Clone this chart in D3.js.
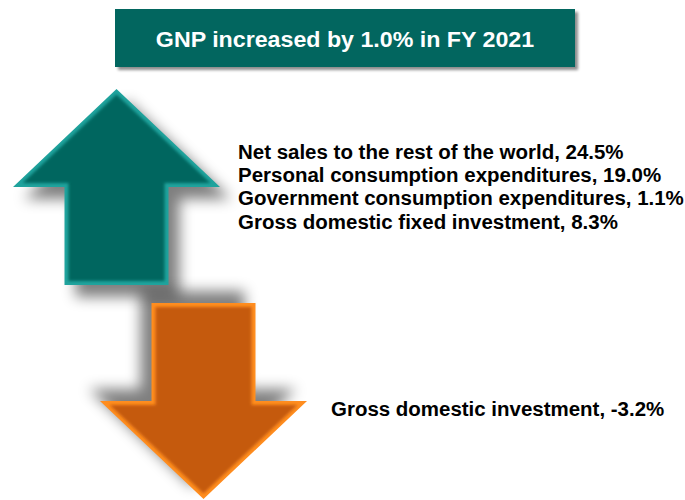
<!DOCTYPE html>
<html>
<head>
<meta charset="utf-8">
<script src="https://cdn.jsdelivr.net/npm/d3@7"></script>
<style>
  body { margin: 0; background: #fff; }
  svg { display: block; font-family: "Liberation Sans", Arial, sans-serif; }
</style>
</head>
<body>
<div id="chart"></div>
<script>
var width = 685,
    height = 500;

// data
var titleText = "GNP increased by 1.0% in FY 2021";
var upLabels = ["Net sales to the rest of the world", "Personal consumption expenditures",
                "Government consumption expenditures", "Gross domestic fixed investment"];
var upValues = [24.5, 19.0, 1.1, 8.3];
var downLabels = ["Gross domestic investment"];
var downValues = [-3.2];

var teal = "#02665f", tealLight = "#1fa39d";
var orange = "#c55a11", orangeLight = "#ff8d1f";

var svg = d3.select('#chart').append('svg')
    .attr('width', width)
    .attr('height', height);

var defs = svg.append('defs');
function blur(id, sd) {
    defs.append('filter').attr('id', id)
        .attr('x', '-40%').attr('y', '-40%').attr('width', '180%').attr('height', '180%')
        .append('feGaussianBlur').attr('stdDeviation', sd);
}
blur('shBlur', 7);
blur('boxBlur', 1.5);
blur('soft', 1.6);

var locale = d3.formatLocale({decimal: ".", thousands: ",", grouping: [3], currency: ["", ""], minus: "-"});
var fmt = locale.format('.1f');

// the picture is a bit wider than the fonts
var sx = 1.05;

// title box
var box = svg.append('g');
box.append('rect')
    .attr('x', 118).attr('y', 12)
    .attr('width', 460).attr('height', 58)
    .attr('fill', '#000').attr('opacity', 0.45)
    .attr('filter', 'url(#boxBlur)');
box.append('rect')
    .attr('x', 115).attr('y', 9)
    .attr('width', 460).attr('height', 58)
    .attr('fill', teal);
box.append('text')
    .attr('transform', 'translate(345,47) scale(1.08,1)')
    .attr('text-anchor', 'middle')
    .attr('fill', '#fff')
    .style('font-size', '21.5px')
    .style('font-weight', 'bold')
    .text(titleText);

// arrow shape, pointing up, tip at (0,0)
var headH = 98, headW = 103.5, shaftW = 52, totalH = 196;
function arrowPts(inset) {
    var k = inset;
    return [
        [0, k * 1.4],
        [headW - k * 2.4, headH - k],
        [shaftW - k, headH - k],
        [shaftW - k, totalH - k],
        [-shaftW + k, totalH - k],
        [-shaftW + k, headH - k],
        [-headW + k * 2.4, headH - k]
    ];
}
var line = d3.line().curve(d3.curveLinearClosed);

function drawShadow(cx, cy, rot) {
    svg.append('g')
        .attr('transform', 'translate(' + cx + ',' + cy + ') rotate(' + rot + ') translate(11,12)')
        .append('path').attr('d', line(arrowPts(0)))
        .attr('fill', '#000').attr('opacity', 0.5)
        .attr('filter', 'url(#shBlur)');
}
function drawArrow(id, cx, cy, rot, dark, light) {
    defs.append('clipPath').attr('id', id)
        .append('path').attr('d', line(arrowPts(0)));
    var g = svg.append('g')
        .attr('transform', 'translate(' + cx + ',' + cy + ') rotate(' + rot + ')');
    g.append('path').attr('d', line(arrowPts(0))).attr('fill', light);
    g.append('g').attr('clip-path', 'url(#' + id + ')')
        .append('path').attr('d', line(arrowPts(4)))
        .attr('fill', dark)
        .attr('filter', 'url(#soft)');
}
drawShadow(116.5, 89, 0);
drawShadow(203.5, 499, 180);
drawArrow('clipUp', 116.5, 89, 0, teal, tealLight);
drawArrow('clipDown', 203.5, 499, 180, orange, orangeLight);

// labels
var yUp = d3.scalePoint().domain(d3.range(upLabels.length)).range([158.5, 228.5]);
svg.append('g').selectAll('text')
    .data(upLabels)
    .enter().append('text')
    .attr('transform', function(d, i) { return 'translate(238,' + yUp(i) + ') scale(' + sx + ',1)'; })
    .style('font-size', '19.5px')
    .style('font-weight', 'bold')
    .attr('fill', '#000')
    .text(function(d, i) { return d + ', ' + fmt(upValues[i]) + '%'; });

svg.append('g').selectAll('text')
    .data(downLabels)
    .enter().append('text')
    .attr('transform', 'translate(331,415.5) scale(' + sx + ',1)')
    .style('font-size', '19.5px')
    .style('font-weight', 'bold')
    .attr('fill', '#000')
    .text(function(d, i) { return d + ', ' + fmt(downValues[i]) + '%'; });
</script>
</body>
</html>
